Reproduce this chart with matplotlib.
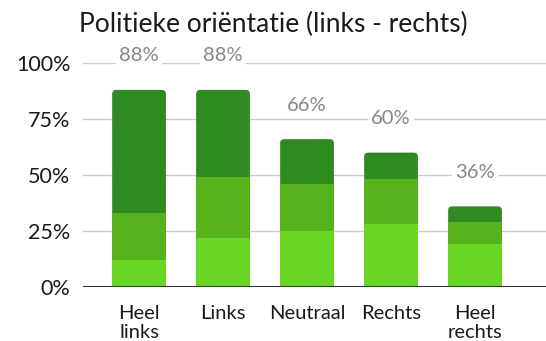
import matplotlib
matplotlib.use("Agg")
import matplotlib.pyplot as plt
from matplotlib.patches import FancyBboxPatch

plt.rcParams['font.family'] = ['Lato', 'DejaVu Sans']

categories = ["Heel\nlinks", "Links", "Neutraal", "Rechts", "Heel\nrechts"]
seg_low = [12, 22, 25, 28, 19]
seg_mid = [21, 27, 21, 20, 10]
seg_top = [55, 39, 20, 12, 7]
totals = [88, 88, 66, 60, 36]
yticks = [0, 25, 50, 75, 100]
ytick_labels = ["0%", "25%", "50%", "75%", "100%"]

c_low = "#6ad624"
c_mid = "#56b31b"
c_top = "#2f8a22"

W, H = 546, 341
fig = plt.figure(figsize=(W / 100, H / 100), dpi=100)
ax = fig.add_axes([83 / W, 54 / H, 1 - 83 / W, 224 / H])
ax.set_xlim(-0.667, 4.845)
ax.set_ylim(0, 100)

x = list(range(len(categories)))
width = 0.64

# pixel scale for rounding the top corners of each bar
px_x = (ax.get_xlim()[1] - ax.get_xlim()[0]) / (ax.get_position().width * W)
px_y = 100 / (ax.get_position().height * H)
r = 4 * px_x

for i in x:
    low = seg_low[i]
    mid = seg_mid[i]
    top = seg_top[i]
    ax.bar(i, low, width=width, color=c_low, zorder=3, linewidth=0)
    ax.bar(i, mid, bottom=low, width=width, color=c_mid, zorder=3, linewidth=0)
    base = low + mid
    patch = FancyBboxPatch((i - width / 2, base - 3), width, top + 3,
                           boxstyle=f"round,pad=0,rounding_size={r}",
                           mutation_aspect=px_y / px_x,
                           facecolor=c_top, edgecolor="none", zorder=2.5)
    ax.add_patch(patch)
    ax.annotate(f"{totals[i]}%", xy=(i, totals[i]), xytext=(0, 24.5),
                textcoords="offset points", ha="center", va="center",
                fontsize=14.5, color="#868686", zorder=4, annotation_clip=False,
                bbox=dict(boxstyle="square,pad=0.15", fc="white", ec="none"))

for y in yticks[1:]:
    ax.axhline(y, color="#cccccc", linewidth=1, zorder=1)
ax.axhline(0, color="#333333", linewidth=1.5, zorder=4)

ax.set_yticks(yticks)
ax.set_yticklabels(ytick_labels, fontsize=15.5, color="#1a1a1a")
ax.set_xticks(x)
ax.set_xticklabels(categories, fontsize=14.5, color="#1a1a1a", linespacing=1.15)
ax.tick_params(axis="both", length=0)
ax.tick_params(axis="y", pad=9)
ax.tick_params(axis="x", pad=13)
for s in ax.spines.values():
    s.set_visible(False)

fig.text(273 / W, 1 - 24 / H, "Politieke oriëntatie (links - rechts)",
         ha="center", va="center", fontsize=19, color="#1a1a1a")

fig.savefig("out.png", dpi=100)
